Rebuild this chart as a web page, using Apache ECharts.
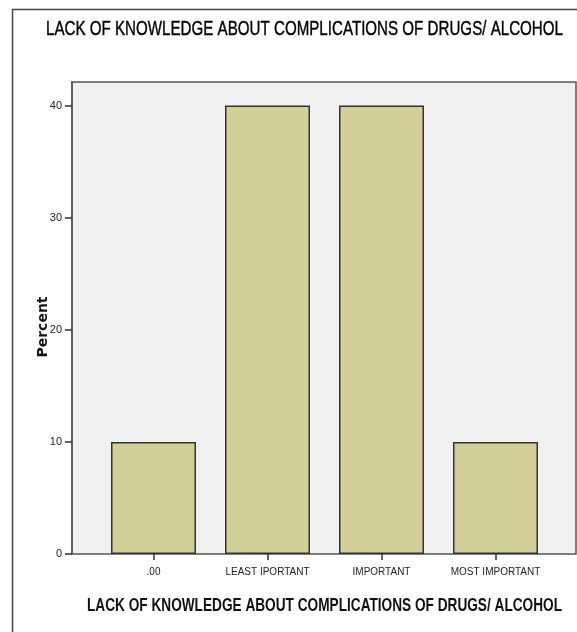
<!DOCTYPE html>
<html>
<head>
<meta charset="utf-8">
<script src="https://cdn.jsdelivr.net/npm/echarts@6/dist/echarts.min.js"></script>
<style>
html,body{margin:0;padding:0;background:#fff;}
#chart{width:577px;height:632px;}
</style>
</head>
<body>
<div id="chart"></div>
<script>
const chartTitle = 'LACK OF KNOWLEDGE ABOUT COMPLICATIONS OF DRUGS/ ALCOHOL';
const xAxisTitle = 'LACK OF KNOWLEDGE ABOUT COMPLICATIONS OF DRUGS/ ALCOHOL';
const yAxisTitle = 'Percent';
const categories = ['.00', 'LEAST IPORTANT', 'IMPORTANT', 'MOST IMPORTANT'];
const percents = [10, 40, 40, 10];
const yTicks = [0, 10, 20, 30, 40];

const FONT = '"Liberation Sans", Arial, sans-serif';
const measureCtx = document.createElement('canvas').getContext('2d');
function narrowScale(text, size, weight, targetWidth) {
  measureCtx.font = weight + ' ' + size + 'px ' + FONT;
  return targetWidth / measureCtx.measureText(text).width;
}

const chart = echarts.init(document.getElementById('chart'), null, {renderer: 'canvas'});
const option = {
  animation: false,
  backgroundColor: '#ffffff',
  graphic: [
    {
      type: 'rect',
      shape: {x: 12.5, y: 9.5, width: 700, height: 700},
      style: {fill: 'none', stroke: '#444', lineWidth: 1.5},
      silent: true, z: -10
    },
    {
      type: 'text', x: 46, y: 29.5, scaleX: narrowScale(chartTitle, 21, 'normal', 517), originX: 0,
      style: {text: chartTitle, font: 'normal 21px ' + FONT, fill: '#000', stroke: '#000', lineWidth: 0.4, verticalAlign: 'middle', align: 'left'},
      silent: true
    },
    {
      type: 'text', x: 87, y: 605.5, scaleX: narrowScale(xAxisTitle, 19, 'bold', 475), originX: 0,
      style: {text: xAxisTitle, font: 'bold 19px ' + FONT, fill: '#111', verticalAlign: 'middle', align: 'left'},
      silent: true
    }
  ],
  grid: [
    {left: 72, top: 82, right: 1, bottom: 78, show: true, backgroundColor: '#f0f0f0', borderColor: '#555', borderWidth: 1.5, containLabel: false, outerBoundsMode: 'none'},
    {left: 96.5, right: 24.5, top: 82, bottom: 78, containLabel: false, outerBoundsMode: 'none'}
  ],
  xAxis: [
    {gridIndex: 0, type: 'value', show: false, min: 0, max: 1},
    {
      gridIndex: 1, type: 'category', data: categories,
      axisLine: {show: false},
      axisTick: {show: true, interval: 0, alignWithLabel: true, length: 6, lineStyle: {color: '#333', width: 1.5}},
      axisLabel: {interval: 0, hideOverlap: false, fontFamily: FONT, fontSize: 10, color: '#222', margin: 13}
    }
  ],
  yAxis: [
    {
      gridIndex: 0, type: 'value', min: 0, max: 42.1, interval: 10,
      splitLine: {show: false},
      axisLine: {show: true, lineStyle: {color: '#555', width: 1.5}},
      axisTick: {show: true, length: 7, customValues: yTicks, lineStyle: {color: '#333', width: 1.5}},
      axisLabel: {customValues: yTicks, fontFamily: FONT, fontSize: 11, color: '#222', margin: 10},
      name: yAxisTitle, nameLocation: 'middle', nameGap: 22, nameRotate: 90, nameMoveOverlap: false,
      nameTextStyle: {fontFamily: '"DejaVu Sans", sans-serif', fontWeight: 'bold', fontSize: 14, color: '#111', padding: [0, 18, 0, 0]}
    },
    {gridIndex: 1, type: 'value', min: 0, max: 42.1, show: false}
  ],
  series: [{
    type: 'bar',
    xAxisIndex: 1, yAxisIndex: 1,
    data: percents,
    barWidth: 85,
    itemStyle: {color: '#d3cf98', borderColor: '#333', borderWidth: 1.5}
  }]
};
chart.setOption(option);
</script>
</body>
</html>
